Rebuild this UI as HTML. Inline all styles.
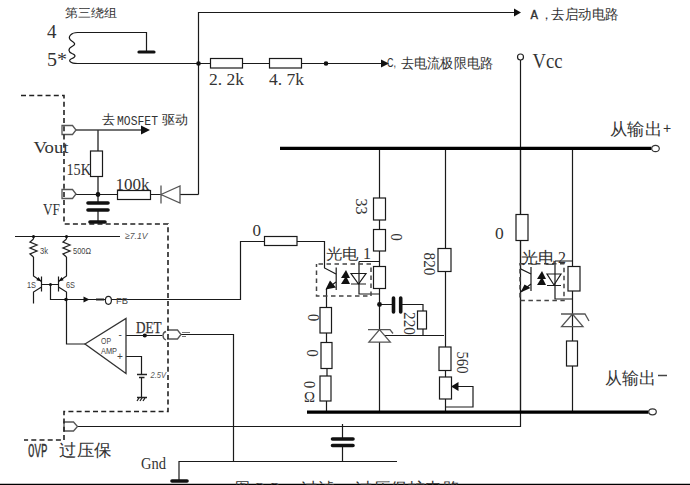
<!DOCTYPE html>
<html><head><meta charset="utf-8">
<style>
html,body{margin:0;padding:0;background:#fff;width:690px;height:485px;overflow:hidden}
svg{display:block}
.s{font-family:"Liberation Serif",serif}
.a{font-family:"Liberation Sans",sans-serif}
</style></head><body>
<svg width="690" height="485" viewBox="0 0 690 485">
<!-- ===== thin wires ===== -->
<g fill="none" stroke="#1a1a1a" stroke-width="1.2">
<path d="M77,32.5 H146.5 V51"/>
<path d="M76,63.5 H381"/>
<path d="M77.5,32.5 C71,32.5 67.5,37 70.5,40 C74,42.5 77,44 72,46.5 C67.5,49 68.5,52 72,53.5 C77,55.5 75,57.5 71,59 C68,60.5 70,63.5 77.5,63.5"/>
<path d="M198.5,194.5 V12.5 H514"/>
<path d="M180,194.5 H198.5"/>
<path d="M520.5,60 V214"/>
<!-- left panel -->
<path d="M75.5,130 H141" stroke="#444" stroke-width="1.5"/>
<path d="M98,130 V202 M98,210 V221" stroke="#333" stroke-width="1.4"/>
<path d="M75.5,194.5 H161"/>
<!-- 7.1V rail + transistors -->
<path d="M15,236.5 H120"/>
<path d="M33.5,236.5 V239 M33.5,257 V276 L41.5,281.5 M41.5,287 L33.5,292 V303.5 M41.5,276.5 V291.5"/>
<path d="M66.5,236.5 V239 M66.5,257 V276 L58.5,281.5 M58.5,287 L66.5,292 V344 H85 M58.5,276.5 V291.5"/>
<path d="M41.5,284.5 H58.5 M50.5,284.5 V299.5 H240.5 V241.5 H265"/>
<!-- opamp outputs -->
<path d="M126,335.5 H162.5 M181,334.5 H233.5 V462"/><path d="M182,332.5 H190 M182,336.5 H186" stroke="#777"/>
<path d="M126,356.5 H141.5 V374.5 M141.5,377 V397.5"/>
<!-- OVP line -->
<path d="M77,426.5 H520.5 V148"/>
<!-- gnd line -->
<path d="M179,481 V461.5 H397"/>

<path d="M342.5,424 V438 M342.5,446 V461.5"/>
<!-- opto1 circuit -->
<path d="M297,241.5 H324.5 V268 L336,274 M336,282 L326.5,289 V307.5"/>
<path d="M326.5,333 V342.5 M327,369 V376 M326.5,401 V412"/>
<path d="M379.5,148 V198 M379.5,220 V229.5 M379.5,251 V266 M379.5,288 V329 M379.5,342 V412"/>
<path d="M359,261.5 H379.5 M359,261.5 V294 H379.5"/>
<path d="M379.5,304.5 H393 M401,304.5 H423 V311 M423,329 V335.5 M385,335.5 H444"/>
<path d="M445.5,148 V249 M445.5,271 V347 M445.5,370 V377 M445.5,399 V412"/>
<path d="M451,386.5 H473 V407 H445"/>
<!-- diode symbol in opto1 -->
<path d="M351,273.5 H366 L358.5,284 Z M351,284 H366"/>
<!-- opto 2 -->
<path d="M520.5,240 V268.8 L531,274 M531,284 L520.5,292 V412"/>
<path d="M531,267 V291"/>
<path d="M572.5,148 V266 M572.5,291 V341 M572.5,366 V412"/>
<path d="M555,261 H572.5 M555,261 V299 H572.5"/>
<path d="M547,274 H561 L554,285 Z M547,285.5 H561"/>
<path d="M336.2,267.5 V290"/>
</g>
<!-- gray symbols -->
<g fill="none" stroke="#555" stroke-width="1.3">
<path d="M161,185.5 V203.5 M161,194.5 L180,186 V203 Z"/>
<path d="M368,329.7 H390 L393,333.5 M379.5,329.7 L368.9,342.2 H390.3 Z"/>
<path d="M561,314 H585 L589,321 M572.5,314 L561.6,326.6 H583 Z"/>
<path d="M62,125.5 H72.5 L76,130 L72.5,134.5 H62 Z"/>
<path d="M62,189.5 H72.5 L76,194 L72.5,198.5 H62 Z"/>
<path d="M64,422 H73.5 L77.5,426.5 L73.5,431 H64 Z"/>
<path d="M167,330 H177.5 L181,334.5 L177.5,339 H167 M166,331.5 C162,332.5 162,338.5 166,340"/>
</g>
<!-- op amp -->
<path d="M85,344 L126,318.5 V373.5 Z" fill="none" stroke="#333" stroke-width="1.3"/>
<!-- dashed box -->
<path d="M21,95.5 H64 V224 H168 V411.5 H64 V440 H24" fill="none" stroke="#222" stroke-width="1.6" stroke-dasharray="5,3.2"/>
<path d="M318.5,264 H371 V296 H316.5 V264" fill="none" stroke="#444" stroke-width="1.5" stroke-dasharray="4.5,3.5"/>
<path d="M520,263.7 H564 V300.6 H520 Z" fill="none" stroke="#444" stroke-width="1.5" stroke-dasharray="4.5,3.5"/>
<!-- thick buses -->
<g stroke="#000" stroke-width="3.2" fill="none">
<path d="M280,148.4 H651.5"/>
<path d="M307,412.2 H648.5"/>
</g>
<!-- ground bars & cap plates -->
<g stroke="#111" stroke-width="3.2" stroke-linecap="round" fill="none">
<path d="M139,52 H154"/>
</g><g stroke="#111" stroke-width="3.6" stroke-linecap="round" fill="none"><path d="M88,203 H108 M88,210 H108 M90,222 H105"/>
<path d="M393.5,298 V312 M400.7,298 V312"/>
<path d="M332.5,439 H353 M332.5,445.5 H353"/>
<path d="M172,481 H187"/>
</g>
<path d="M0,484.6 H690" stroke="#000" stroke-width="1.6"/>
<!-- filled items -->
<g fill="#111">
<circle cx="198.5" cy="63.5" r="2.3"/>
<circle cx="326" cy="63.5" r="2.3"/>
<circle cx="98" cy="194.5" r="2.4"/>
<circle cx="33.5" cy="236.5" r="1.6"/>
<circle cx="66.5" cy="236.5" r="1.6"/>
<circle cx="50.5" cy="284.5" r="1.5"/>
<circle cx="66" cy="299.5" r="1.8"/>
<circle cx="144.8" cy="335.5" r="2.1"/>
<circle cx="379.5" cy="304.5" r="2.4"/>
<path d="M514,8.5 L521,12.5 L514,16.5Z"/>
<path d="M381,59.5 L389,63.5 L381,67.5Z"/>
<path d="M141,125.5 L150,130 L141,134.5Z"/>
<path d="M83.5,296.5 L89.5,299.5 L83.5,302.5Z"/>
<path d="M38.5,277 L41.5,281.5 L36.3,280.3Z M61.5,277 L58.5,281.5 L63.7,280.3Z"/>
<path d="M451,386.5 L458.5,382 V391 Z"/>
<!-- opto arrows -->
<path d="M325.5,289.5 L330,280.5 L336,287.5 Z"/>
<path d="M520.5,292.5 L524.5,284.5 L530.5,288 Z"/>
<path d="M341,278 L346,270 L350,278 Z M341,284 L346,276 L350,284 Z"/>
<path d="M537,279 L542,271 L546,279 Z M537,285 L542,277 L546,285 Z"/>
</g>
<circle cx="520.5" cy="57" r="3" fill="#fff" stroke="#222" stroke-width="1.2"/>
<ellipse cx="655.5" cy="148.5" rx="3.8" ry="3.2" fill="#fff" stroke="#333" stroke-width="1.2"/>
<ellipse cx="652.5" cy="411.8" rx="3.8" ry="3" fill="#fff" stroke="#333" stroke-width="1.2"/>
<ellipse cx="108.4" cy="300.3" rx="3" ry="4" fill="#fff" stroke="#222" stroke-width="1.2"/>
<!-- resistors -->
<g fill="#fff" stroke="#1a1a1a" stroke-width="1.2">
<rect x="210.5" y="58.5" width="32" height="9.5"/>
<rect x="269.5" y="58.5" width="32" height="9.5"/>
<rect x="90.5" y="151" width="12" height="25.5"/>
<rect x="117.5" y="190.5" width="33" height="9"/>
<rect x="264.5" y="236.5" width="32.5" height="9"/>
<rect x="373.5" y="198" width="12" height="22"/>
<rect x="373.5" y="229.5" width="12" height="21.5"/>
<rect x="373.5" y="266.5" width="12" height="22"/>
<rect x="417.5" y="311" width="9" height="18"/>
<rect x="438" y="248.5" width="13" height="23"/>
<rect x="439" y="347" width="12" height="23.5"/>
<rect x="439.5" y="377" width="12" height="22"/>
<rect x="320" y="307.5" width="11.5" height="25.5"/>
<rect x="321" y="342.5" width="11" height="26"/>
<rect x="320" y="376" width="11" height="25"/>
<rect x="516" y="214.5" width="12" height="26"/>
<rect x="568" y="266.5" width="12" height="24.5"/>
<rect x="566.5" y="341" width="11" height="25"/>
</g>
<!-- zigzags -->
<g fill="none" stroke="#222" stroke-width="1.3">
<path d="M33.5,239 L30,242 L37,245 L30,248 L37,251 L30,254 L33.5,257"/>
<path d="M66.5,239 L63,242 L70,245 L63,248 L70,251 L63,254 L66.5,257"/>
<path d="M137,374.5 H147 M139,377.5 H144.5" />
<path d="M137,397.5 H147 M139,398 L137,401 M142,398 L140,401 M145,398 L143,401"/>
<path d="M96,299.5 H104" stroke-width="2"/>
</g>
<!-- texts -->
<g fill="#333">
<text x="65" y="17" font-size="12" class="s" textLength="52" lengthAdjust="spacingAndGlyphs">第三绕组</text>
<text x="47" y="38" font-size="19" class="s">4</text>
<text x="47" y="66" font-size="19" class="s" textLength="20" lengthAdjust="spacingAndGlyphs">5*</text>
<text x="209" y="85" font-size="16" class="s" textLength="35" lengthAdjust="spacingAndGlyphs">2. 2k</text>
<text x="269" y="85" font-size="16" class="s" textLength="35" lengthAdjust="spacingAndGlyphs">4. 7k</text>
<text x="387" y="67" font-size="13" class="a" textLength="9" lengthAdjust="spacingAndGlyphs">C,</text><text x="401" y="67.5" font-size="13.5" class="s" textLength="92" lengthAdjust="spacingAndGlyphs">去电流极限电路</text>
<text x="530.5" y="19" font-size="12.5" font-family="Liberation Mono" stroke="#333" stroke-width="0.3">A</text><text x="540" y="19" font-size="13" class="s">，</text><text x="551" y="19" font-size="13.5" class="s" textLength="67.5" lengthAdjust="spacingAndGlyphs">去启动电路</text>
<text x="532.5" y="68.2" font-size="20" class="s" textLength="30" lengthAdjust="spacingAndGlyphs">Vcc</text>
<text x="102" y="124" font-size="13" class="s">去</text><text x="117" y="124.5" font-size="13" font-family="Liberation Mono" textLength="41" lengthAdjust="spacingAndGlyphs">MOSFET</text><text x="161.5" y="124" font-size="13" class="s" textLength="26" lengthAdjust="spacingAndGlyphs">驱动</text>
<text x="33.5" y="153" font-size="17.5" class="s" textLength="35" lengthAdjust="spacingAndGlyphs">Vout</text>
<text x="66.5" y="174.5" font-size="17" class="s" textLength="24.5" lengthAdjust="spacingAndGlyphs">15K</text>
<text x="115.5" y="189.5" font-size="16" class="s" textLength="34" lengthAdjust="spacingAndGlyphs">100k</text>
<text x="43" y="215" font-size="16" class="s" textLength="17" lengthAdjust="spacingAndGlyphs">VF</text>
<text x="136" y="332.7" font-size="17" class="s" stroke="#333" stroke-width="0.25" textLength="25.5" lengthAdjust="spacingAndGlyphs">DET</text>
<text x="28" y="457" font-size="20" font-family="Liberation Mono" stroke="#333" stroke-width="0.3" textLength="19.5" lengthAdjust="spacingAndGlyphs">OVP</text><text x="59" y="456" font-size="17" class="s" textLength="52.5" lengthAdjust="spacingAndGlyphs">过压保</text>
<text x="141" y="469" font-size="16" class="s" textLength="25" lengthAdjust="spacingAndGlyphs">Gnd</text>
<text x="252.5" y="235.5" font-size="17" class="s">0</text>
<text x="325.5" y="258.5" font-size="15" class="s" textLength="33" lengthAdjust="spacingAndGlyphs">光电</text><text x="363" y="259" font-size="16" class="s">1</text>
<text x="521" y="262.5" font-size="15.5" class="s" textLength="34" lengthAdjust="spacingAndGlyphs">光电</text><text x="558" y="262.5" font-size="16" class="s">2</text>
<text x="495" y="239" font-size="17.5" class="s">0</text>
<text x="610" y="135" font-size="17" class="a" textLength="52" lengthAdjust="spacingAndGlyphs">从输出</text><text x="663" y="133" font-size="14" class="a">+</text>
<text x="604.5" y="384" font-size="17" class="a" textLength="51" lengthAdjust="spacingAndGlyphs">从输出</text><path d="M658,375.5 H667" stroke="#444" stroke-width="1.5"/>
<text x="235" y="493" font-size="15" class="s">图</text><text x="255" y="493" font-size="15" class="s" textLength="25" lengthAdjust="spacingAndGlyphs">2.3</text><text x="301" y="493" font-size="15" class="s" textLength="50" lengthAdjust="spacingAndGlyphs">过滤、</text><text x="355" y="493" font-size="15" class="s" textLength="105" lengthAdjust="spacingAndGlyphs">过压保护电路</text>
</g>
<g fill="#444" class="a" font-size="9">
<text x="125" y="239.3" font-style="italic" font-size="9.5" fill="#555" textLength="22.5" lengthAdjust="spacingAndGlyphs">≥7.1V</text>
<text x="40" y="254" textLength="8" lengthAdjust="spacingAndGlyphs">3k</text>
<text x="73" y="254" textLength="18" lengthAdjust="spacingAndGlyphs">500Ω</text>
<text x="27" y="288" textLength="9" lengthAdjust="spacingAndGlyphs">1S</text>
<text x="66" y="288" textLength="9" lengthAdjust="spacingAndGlyphs">6S</text>
<text x="116" y="304" textLength="12" lengthAdjust="spacingAndGlyphs">FB</text>
<text x="101" y="343.5" textLength="10" lengthAdjust="spacingAndGlyphs">OP</text>
<text x="101" y="354" textLength="16" lengthAdjust="spacingAndGlyphs">AMP</text>
<text x="150.5" y="378" font-style="italic" fill="#555" textLength="15.5" lengthAdjust="spacingAndGlyphs">2.5V</text>
<text x="118.5" y="338" font-size="10">-</text>
<text x="117" y="359.5" font-size="10">+</text>
</g>
<!-- rotated labels -->
<g fill="#333" class="s" font-size="15">
<text transform="translate(355.5,198.5) rotate(90)" font-size="17" textLength="16" lengthAdjust="spacingAndGlyphs">33</text>
<text transform="translate(391,233.5) rotate(90) scale(0.85,1)" font-size="17">0</text>
<text transform="translate(423.5,252.5) rotate(90)" font-size="16.5" textLength="23" lengthAdjust="spacingAndGlyphs">820</text>
<text transform="translate(403.5,312) rotate(90)" font-size="17" textLength="23" lengthAdjust="spacingAndGlyphs">220</text>
<text transform="translate(456.5,351.5) rotate(90)" font-size="17" textLength="22" lengthAdjust="spacingAndGlyphs">560</text>
<text transform="translate(308,314) rotate(90) scale(0.85,1)" font-size="17">0</text>
<text transform="translate(307,349.5) rotate(90) scale(0.85,1)" font-size="17">0</text>
<text transform="translate(304,381) rotate(90) scale(0.85,1)" font-size="17">0</text><text x="304" y="401.5" font-size="15" textLength="11" lengthAdjust="spacingAndGlyphs">Ω</text>
</g>
</svg>
</body></html>
